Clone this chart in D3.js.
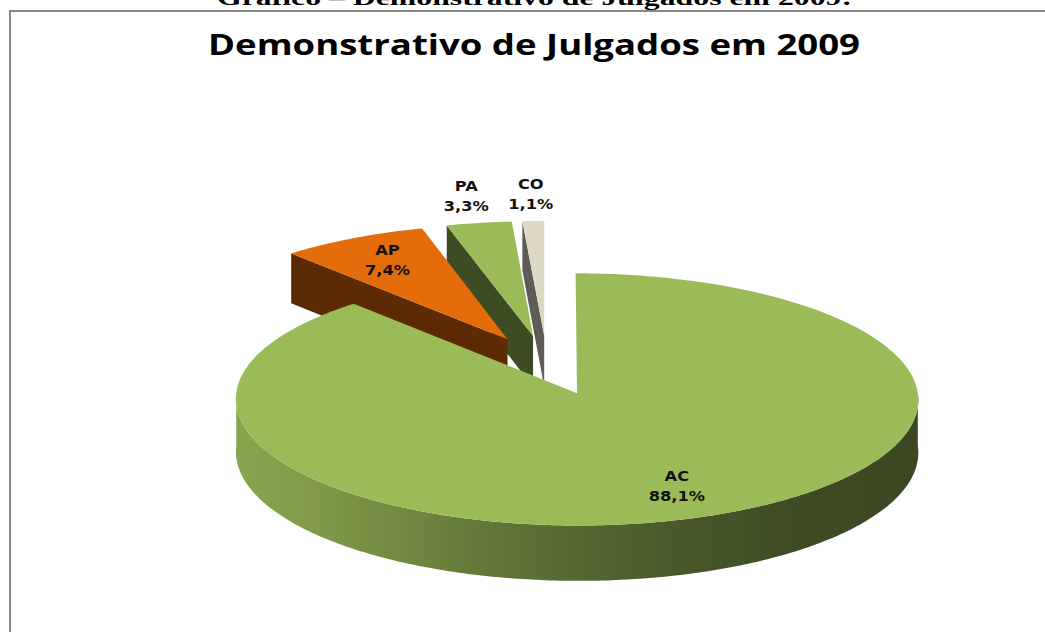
<!DOCTYPE html>
<html>
<head>
<meta charset="utf-8">
<script src="https://cdn.jsdelivr.net/npm/d3@7"></script>
<style>
  body { margin: 0; background: #fff; }
</style>
</head>
<body>
<div id="chart"></div>
<script>
/* data */
const categories = ["AC", "AP", "PA", "CO"];
const percents = [88.1, 7.4, 3.3, 1.1];
const topColors = ["#9bbb59", "#e46c0a", "#9bbb59", "#ddd9c3"];
const sideColors = ["#5f7638", "#5c2a03", "#3e4c24", "#5e5c57"];
const caption = "Gráfico – Demonstrativo de Julgados em 2009:";
const title = "Demonstrativo de Julgados em 2009";

/* sizes */
const width = 1045, height = 632;
const cx = 547, cy = 365;     // pie centre (top face)
const rx = 337, ry = 123;     // ellipse radii
const depth = 52;             // thickness of the pie
const persp = 0.049;          // a bit of perspective
const explode = 0.243;        // every slice pulled out by this much

const ptBr = d3.formatLocale({decimal: ",", thousands: ".", grouping: [3], currency: ["R$", ""]});
const fmt = ptBr.format(".1f");

// unit pie plane -> screen (z grows toward the viewer)
function project(x, z, d) {
  const f = 1 / (1 - persp * z);
  return [cx + rx * x * f, cy + (ry * z + d) * f];
}

const svg = d3.select("#chart")
  .append("svg")
  .attr("width", width)
  .attr("height", height);

/* frame and captions */
svg.append("rect")
  .attr("x", 10).attr("y", 11)
  .attr("width", 1200).attr("height", 800)
  .attr("fill", "none")
  .attr("stroke", "#868686")
  .attr("stroke-width", 2);

svg.append("text")
  .attr("x", 217).attr("y", 5)
  .attr("textLength", 635)
  .attr("lengthAdjust", "spacingAndGlyphs")
  .style("font", "bold 22px 'Liberation Serif', serif")
  .text(caption);

svg.append("text")
  .attr("x", 208).attr("y", 55)
  .attr("textLength", 652)
  .attr("lengthAdjust", "spacingAndGlyphs")
  .style("font", "bold 28px 'Open Sans', sans-serif")
  .text(title);

/* gradient for the curved wall */
const defs = svg.append("defs");
const shade = [[0, 0.9], [0.15, 0.82], [0.4, 0.62], [0.62, 0.48], [0.8, 0.4], [1, 0.38]];
topColors.forEach((c, i) => {
  const base = d3.rgb(c);
  const g = defs.append("linearGradient")
    .attr("id", "side" + i)
    .attr("gradientUnits", "userSpaceOnUse")
    .attr("x1", cx - rx).attr("x2", cx + rx + 60)
    .attr("y1", 0).attr("y2", 0);
  shade.forEach(s => {
    g.append("stop")
      .attr("offset", s[0])
      .attr("stop-color", d3.rgb(base.r * s[1], base.g * s[1], base.b * s[1]).formatHex());
  });
});

/* pie layout */
const arcs = d3.pie().sort(null).value(d => d)(percents);
const slices = arcs.map((a, i) => {
  const mid = (a.startAngle + a.endAngle) / 2;
  return {
    i: i, a0: a.startAngle, a1: a.endAngle, mid: mid,
    ox: explode * Math.sin(mid), oz: -explode * Math.cos(mid)
  };
});

function pt(s, a, k, d) {
  return project(s.ox + k * Math.sin(a), s.oz - k * Math.cos(a), d);
}
function arcPts(s, a0, a1, d) {
  const n = Math.max(2, Math.ceil((a1 - a0) / (Math.PI / 240)));
  return d3.range(n + 1).map(j => pt(s, a0 + (a1 - a0) * j / n, 1, d));
}
const line = d3.line();

const pie = svg.append("g");
slices.slice().sort((a, b) => a.oz - b.oz).forEach(s => {
  const g = pie.append("g");
  const c0 = pt(s, 0, 0, 0), c1 = pt(s, 0, 0, depth);

  // radial walls facing the viewer
  if (Math.sin(s.a0) < -1e-6) {
    g.append("path")
      .attr("d", line([c0, pt(s, s.a0, 1, 0), pt(s, s.a0, 1, depth), c1]) + "Z")
      .attr("fill", sideColors[s.i]);
  }
  if (Math.sin(s.a1) > 1e-6) {
    g.append("path")
      .attr("d", line([c0, pt(s, s.a1, 1, 0), pt(s, s.a1, 1, depth), c1]) + "Z")
      .attr("fill", sideColors[s.i]);
  }

  // curved wall on the near half
  const w0 = Math.max(s.a0, Math.PI / 2), w1 = Math.min(s.a1, 3 * Math.PI / 2);
  if (w1 > w0) {
    const pts = arcPts(s, w0, w1, 0).concat(arcPts(s, w0, w1, depth).reverse());
    g.append("path")
      .attr("d", line(pts) + "Z")
      .attr("fill", "url(#side" + s.i + ")");
  }

  // top face
  g.append("path")
    .attr("d", line([c0].concat(arcPts(s, s.a0, s.a1, 0))) + "Z")
    .attr("fill", topColors[s.i]);
});

/* data labels */
slices.forEach(s => {
  const inside = percents[s.i] >= 5;
  const p = pt(s, s.mid, inside ? 0.77 : 1.25, 0);
  const t = svg.append("g")
    .attr("transform", "translate(" + p[0] + "," + p[1] + ") scale(1.16,1)")
    .append("text")
    .attr("text-anchor", "middle")
    .attr("dominant-baseline", "central")
    .style("font", "bold 14px 'DejaVu Sans', sans-serif")
    .attr("fill", "#111");
  t.append("tspan").attr("x", 0).attr("y", -10).text(categories[s.i]);
  t.append("tspan").attr("x", 0).attr("y", 10).text(fmt(percents[s.i]) + "%");
});
</script>
</body>
</html>
